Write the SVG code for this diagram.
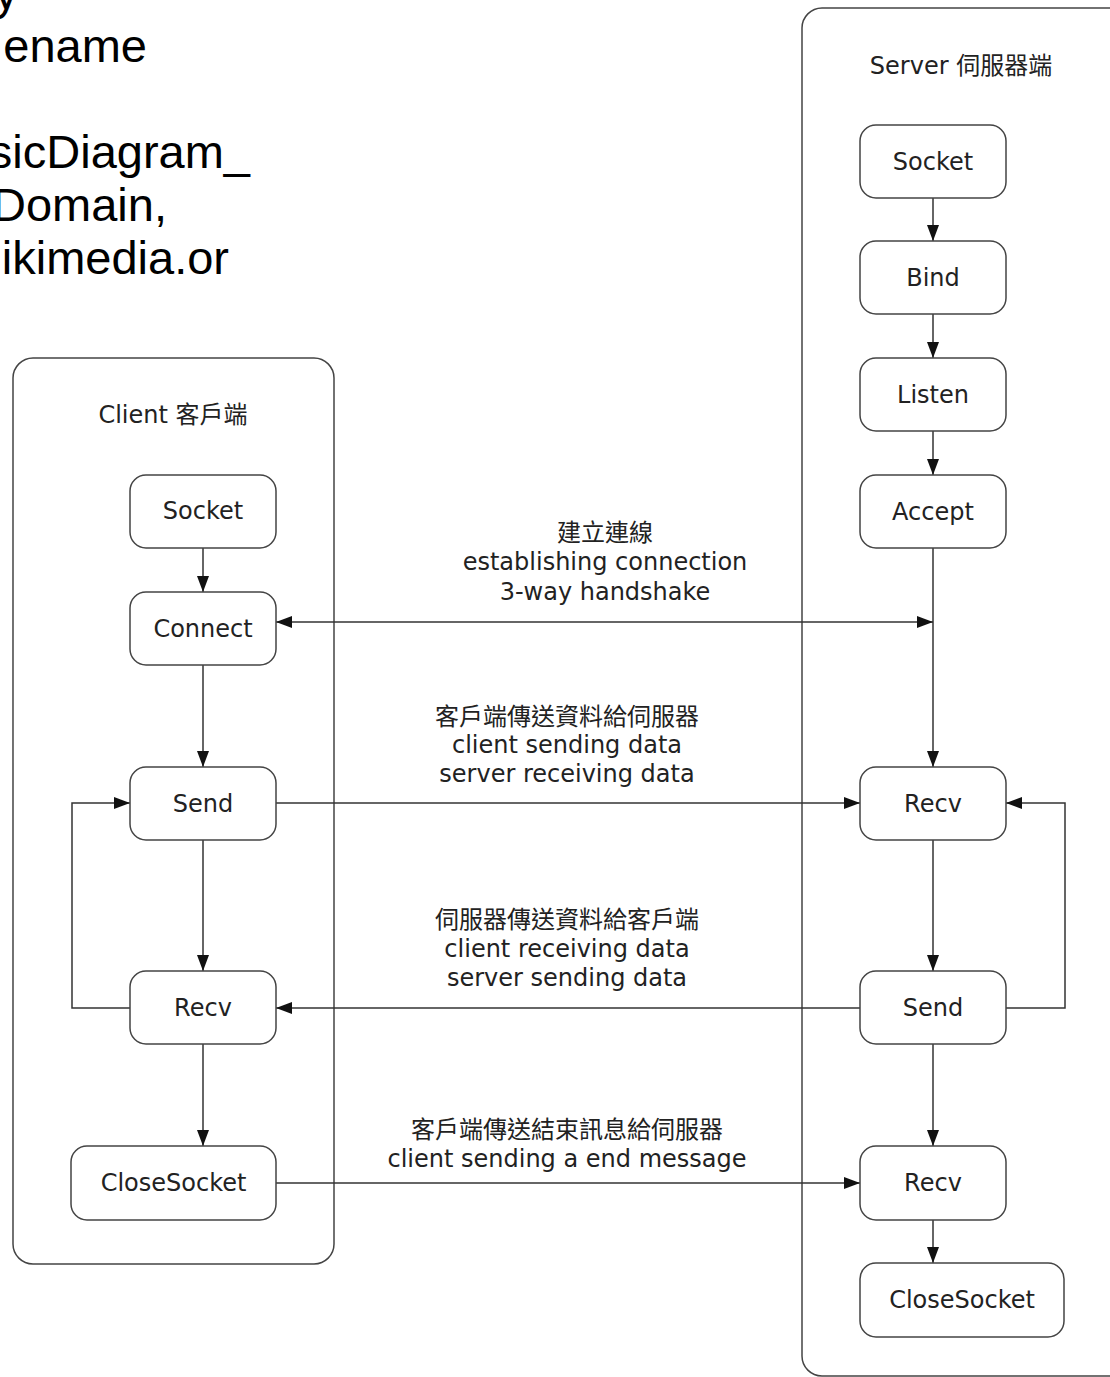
<svg xmlns="http://www.w3.org/2000/svg" width="1110" height="1377" viewBox="0 0 1110 1377">
<style>
.bg{fill:#fff}
.box{fill:#fff;stroke:#444;stroke-width:1.5}
.cont{fill:none;stroke:#444;stroke-width:1.5}
.t{font-family:"DejaVu Sans","Noto Sans CJK TC",sans-serif;font-size:24px;fill:#222;text-anchor:middle}
.src{font-family:"Liberation Sans",Arial,sans-serif;font-size:47px;fill:#000;text-anchor:end}
.ln{fill:none;stroke:#333;stroke-width:1.5}
</style>
<defs>
<marker id="ah" markerUnits="userSpaceOnUse" markerWidth="16" markerHeight="12" refX="16" refY="6" orient="auto-start-reverse">
<path d="M0,0 L16,6 L0,12 z" fill="#111"/>
</marker>
</defs>
<rect class="bg" x="0" y="0" width="1110" height="1377"/>
<g id="source-text">
<text class="src" x="18" y="9">y</text>
<text class="src" x="147" y="62">ename</text>
<text class="src" x="250" y="168">sicDiagram_</text>
<text class="src" x="167" y="221">Domain,</text>
<text class="src" x="229" y="274">ikimedia.or</text>
</g>
<g id="client-lane">
<rect class="cont" x="13" y="358" width="321" height="906" rx="20"/>
<text class="t" x="173" y="423">Client 客戶端</text>
</g>
<g id="server-lane">
<rect class="cont" x="802" y="8" width="340" height="1368" rx="20"/>
<text class="t" x="961" y="74">Server 伺服器端</text>
</g>
<g id="connectors">
<line class="ln" x1="203" y1="548" x2="203" y2="592" marker-end="url(#ah)"/>
<line class="ln" x1="203" y1="665" x2="203" y2="767" marker-end="url(#ah)"/>
<line class="ln" x1="203" y1="840" x2="203" y2="971" marker-end="url(#ah)"/>
<line class="ln" x1="203" y1="1044" x2="203" y2="1146" marker-end="url(#ah)"/>
<polyline class="ln" points="130,1008 72,1008 72,803 130,803" marker-end="url(#ah)"/>
<line class="ln" x1="933" y1="198" x2="933" y2="241" marker-end="url(#ah)"/>
<line class="ln" x1="933" y1="314" x2="933" y2="358" marker-end="url(#ah)"/>
<line class="ln" x1="933" y1="431" x2="933" y2="475" marker-end="url(#ah)"/>
<line class="ln" x1="933" y1="548" x2="933" y2="767" marker-end="url(#ah)"/>
<line class="ln" x1="933" y1="840" x2="933" y2="971" marker-end="url(#ah)"/>
<line class="ln" x1="933" y1="1044" x2="933" y2="1146" marker-end="url(#ah)"/>
<line class="ln" x1="933" y1="1220" x2="933" y2="1263" marker-end="url(#ah)"/>
<polyline class="ln" points="1006,1008 1065,1008 1065,803 1006,803" marker-end="url(#ah)"/>
<line class="ln" x1="276" y1="622" x2="933" y2="622" marker-start="url(#ah)" marker-end="url(#ah)"/>
<line class="ln" x1="276" y1="803" x2="860" y2="803" marker-end="url(#ah)"/>
<line class="ln" x1="860" y1="1008" x2="276" y2="1008" marker-end="url(#ah)"/>
<line class="ln" x1="276" y1="1183" x2="860" y2="1183" marker-end="url(#ah)"/>
</g>
<g id="labels">
<text class="t" x="605" y="541">建立連線</text>
<text class="t" x="605" y="570">establishing connection</text>
<text class="t" x="605" y="600">3-way handshake</text>
<text class="t" x="567" y="725">客戶端傳送資料給伺服器</text>
<text class="t" x="567" y="753">client sending data</text>
<text class="t" x="567" y="782">server receiving data</text>
<text class="t" x="567" y="928">伺服器傳送資料給客戶端</text>
<text class="t" x="567" y="957">client receiving data</text>
<text class="t" x="567" y="986">server sending data</text>
<text class="t" x="567" y="1138">客戶端傳送結束訊息給伺服器</text>
<text class="t" x="567" y="1167">client sending a end message</text>
</g>
<g id="c-socket"><rect class="box" x="130" y="475" width="146" height="73" rx="16"/><text class="t" x="203" y="519">Socket</text></g>
<g id="c-connect"><rect class="box" x="130" y="592" width="146" height="73" rx="16"/><text class="t" x="203" y="637">Connect</text></g>
<g id="c-send"><rect class="box" x="130" y="767" width="146" height="73" rx="16"/><text class="t" x="203" y="812">Send</text></g>
<g id="c-recv"><rect class="box" x="130" y="971" width="146" height="73" rx="16"/><text class="t" x="203" y="1016">Recv</text></g>
<g id="c-close"><rect class="box" x="71" y="1146" width="205" height="74" rx="16"/><text class="t" x="173.5" y="1191">CloseSocket</text></g>
<g id="s-socket"><rect class="box" x="860" y="125" width="146" height="73" rx="16"/><text class="t" x="933" y="170">Socket</text></g>
<g id="s-bind"><rect class="box" x="860" y="241" width="146" height="73" rx="16"/><text class="t" x="933" y="286">Bind</text></g>
<g id="s-listen"><rect class="box" x="860" y="358" width="146" height="73" rx="16"/><text class="t" x="933" y="403">Listen</text></g>
<g id="s-accept"><rect class="box" x="860" y="475" width="146" height="73" rx="16"/><text class="t" x="933" y="520">Accept</text></g>
<g id="s-recv1"><rect class="box" x="860" y="767" width="146" height="73" rx="16"/><text class="t" x="933" y="812">Recv</text></g>
<g id="s-send"><rect class="box" x="860" y="971" width="146" height="73" rx="16"/><text class="t" x="933" y="1016">Send</text></g>
<g id="s-recv2"><rect class="box" x="860" y="1146" width="146" height="74" rx="16"/><text class="t" x="933" y="1191">Recv</text></g>
<g id="s-close"><rect class="box" x="860" y="1263" width="204" height="74" rx="16"/><text class="t" x="962" y="1308">CloseSocket</text></g>
</svg>
